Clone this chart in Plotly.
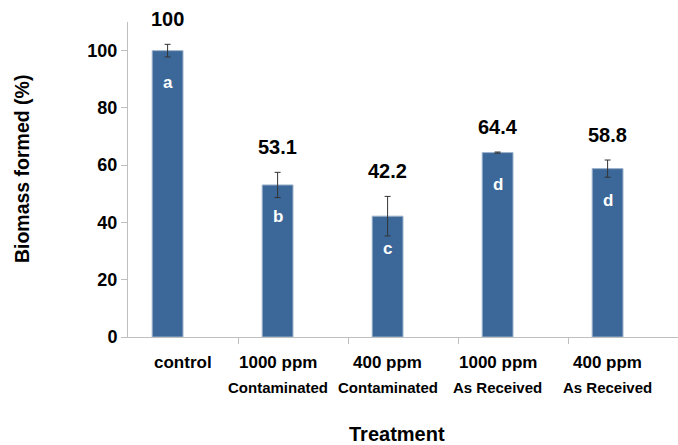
import plotly.graph_objects as go

# ---- data ----
categories = ["control", "1000 ppm", "400 ppm", "1000 ppm", "400 ppm"]
subtitles = ["", "Contaminated", "Contaminated", "As Received", "As Received"]
biomass = [100.0, 53.1, 42.2, 64.4, 58.8]
errors = [2.2, 4.4, 6.9, 0.2, 3.0]
value_labels = ["100", "53.1", "42.2", "64.4", "58.8"]
letters = ["a", "b", "c", "d", "d"]
y_ticks = [0, 20, 40, 60, 80, 100]

NARROW = "Liberation Sans Narrow, Arial Narrow, Liberation Sans, Arial, sans-serif"
SANS = "Liberation Sans, Arial, sans-serif"

bar_w = 0.28
idx = list(range(len(categories)))
bar_x = [i - bar_w / 2 for i in idx]

fig = go.Figure()
fig.add_trace(go.Bar(
    x=bar_x, y=biomass, width=bar_w,
    marker=dict(color="#3b6899", line=dict(color="#9fb3cb", width=1)),
    error_y=dict(type="data", array=errors, visible=True,
                 color="#333333", thickness=1, width=3),
    showlegend=False, hoverinfo="skip",
))

ann = []
for i in idx:
    # value labels above bars
    ann.append(dict(x=bar_x[i], y=biomass[i] + errors[i], xref="x", yref="y",
                    text="<b>%s</b>" % value_labels[i], showarrow=False,
                    yanchor="middle", yshift=25,
                    font=dict(family=NARROW, size=20, color="black")))
    # significance letters inside bars
    ann.append(dict(x=bar_x[i], y=biomass[i], xref="x", yref="y",
                    text="<b>%s</b>" % letters[i], showarrow=False,
                    yanchor="middle", yshift=-32,
                    font=dict(family=SANS, size=17, color="white")))
    # category labels
    lx = i if i == 0 else bar_x[i]
    ann.append(dict(x=lx, y=0, xref="x", yref="paper",
                    text="<b>%s</b>" % categories[i], showarrow=False,
                    yanchor="middle", yshift=-25,
                    font=dict(family=NARROW, size=17, color="black")))
    if subtitles[i]:
        ann.append(dict(x=lx, y=0, xref="x", yref="paper",
                        text="<b>%s</b>" % subtitles[i], showarrow=False,
                        yanchor="middle", yshift=-50,
                        font=dict(family=SANS, size=15, color="black")))

ann.append(dict(x=0.5, y=0, xref="paper", yref="paper", text="<b>Treatment</b>",
                showarrow=False, xshift=-6, yshift=-97, yanchor="middle",
                font=dict(family=NARROW, size=20, color="black")))
ann.append(dict(x=0, y=0.533, xref="paper", yref="paper",
                text="<b>Biomass formed (%)</b>", textangle=-90,
                showarrow=False, xshift=-106, xanchor="center", yanchor="middle",
                font=dict(family=SANS, size=19.5, color="black")))

fig.update_layout(
    width=678, height=445,
    margin=dict(l=128, r=0, t=22, b=108),
    paper_bgcolor="white", plot_bgcolor="white",
    annotations=ann,
    xaxis=dict(range=[-0.5, len(categories) - 0.5],
               tickvals=[i + 0.5 for i in idx[:-1]],
               showticklabels=False, ticks="outside", ticklen=6,
               tickcolor="#bfbfbf", showline=True, linecolor="#bfbfbf",
               linewidth=1, showgrid=False, zeroline=False, fixedrange=True),
    yaxis=dict(range=[0, 110], tickvals=y_ticks,
               ticktext=["<b>%d</b>" % v for v in y_ticks],
               ticks="outside", ticklen=6, tickcolor="#bfbfbf",
               showline=True, linecolor="#bfbfbf", linewidth=1,
               showgrid=False, zeroline=False,
               tickfont=dict(family=NARROW, size=18, color="black"),
               fixedrange=True),
)

fig.write_html("out.html", config={"displayModeBar": False},
               post_script="document.body.style.margin='0';document.body.style.overflow='hidden';")
